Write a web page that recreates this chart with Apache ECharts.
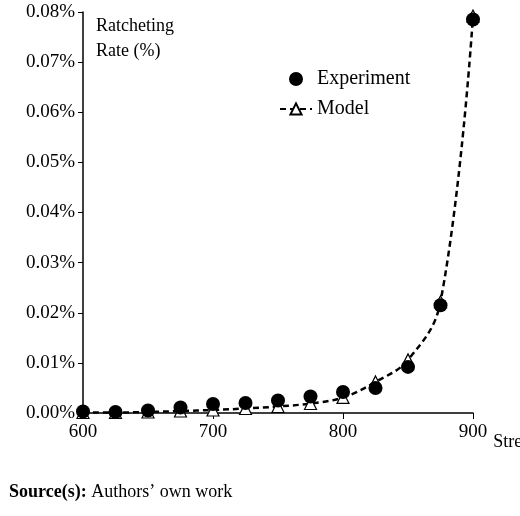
<!DOCTYPE html>
<html>
<head>
<meta charset="utf-8">
<script src="https://cdn.jsdelivr.net/npm/echarts@6/dist/echarts.min.js"></script>
<style>
  html, body { margin: 0; padding: 0; background: #fff; }
  #chart { width: 520px; height: 516px; }
</style>
</head>
<body>
<div id="chart"></div>
<script>
const stress = [600, 625, 650, 675, 700, 725, 750, 775, 800, 825, 850, 875, 900];
const experiment = [0.0003, 0.0002, 0.0005, 0.0011, 0.0018, 0.002, 0.0025, 0.0033, 0.0042, 0.005, 0.0092, 0.0215, 0.0785];
const model = [0.0001, 0.0001, 0.0002, 0.0004, 0.0006, 0.0009, 0.0013, 0.0019, 0.0031, 0.0062, 0.0106, 0.0222, 0.0792];

const font = 'Liberation Serif';
const pair = arr => stress.map((x, i) => [x, arr[i]]);

const chart = echarts.init(document.getElementById('chart'));
chart.setOption({
    animation: false,
    textStyle: { fontFamily: font, color: '#000' },
    grid: { left: 83, right: 47, top: 12, bottom: 103, outerBoundsMode: 'none', containLabel: false },
    legend: {
        left: 274, top: 64, orient: 'vertical', itemGap: 10,
        itemWidth: 32, itemHeight: 14,
        textStyle: { fontFamily: font, fontSize: 20, color: '#000' },
        data: ['Experiment', 'Model']
    },
    title: [
        { text: 'Ratcheting\nRate (%)', left: 91, top: 9,
          textStyle: { fontFamily: font, fontSize: 18, fontWeight: 'normal', lineHeight: 25, color: '#000' } },
        { text: '{b|Source(s):} Authors\u2019 own work', left: 4, top: 478,
          textStyle: { fontFamily: font, fontSize: 18, fontWeight: 'normal', color: '#000',
              rich: { b: { fontFamily: font, fontSize: 18, fontWeight: 'bold', color: '#000' } } } }
    ],
    xAxis: {
        type: 'value', min: 600, max: 900, interval: 100,
        name: 'Stress Amplitude (MPa)', nameLocation: 'end',
        nameGap: 0,
        nameTextStyle: { fontFamily: font, fontSize: 18, color: '#000', align: 'right', verticalAlign: 'top', padding: [20, -17, 0, 0] },
        axisLine: { lineStyle: { color: '#000', width: 1.5 } },
        axisTick: { lineStyle: { color: '#000' }, length: 6 },
        axisLabel: { fontFamily: font, fontSize: 19, color: '#000', margin: 10 },
        splitLine: { show: false }
    },
    yAxis: {
        type: 'value', min: 0, max: 0.08, interval: 0.01,
        axisLine: { show: true, lineStyle: { color: '#000', width: 1.5 } },
        axisTick: { show: true, lineStyle: { color: '#000' }, length: 5 },
        axisLabel: { fontFamily: font, fontSize: 19, color: '#000', margin: 8,
            formatter: v => v.toFixed(2) + '%' },
        splitLine: { show: false }
    },
    series: [
        {
            name: 'Model', type: 'line', data: pair(model), smooth: 0.4,
            symbol: 'triangle', symbolSize: 12,
            lineStyle: { color: '#000', width: 2.5, type: [6, 4] },
            itemStyle: { color: '#fff', borderColor: '#000', borderWidth: 1.2 },
            z: 2
        },
        {
            name: 'Experiment', type: 'scatter', data: pair(experiment),
            symbol: 'circle', symbolSize: 14,
            itemStyle: { color: '#000', opacity: 1 },
            z: 3
        }
    ]
});
</script>
</body>
</html>
